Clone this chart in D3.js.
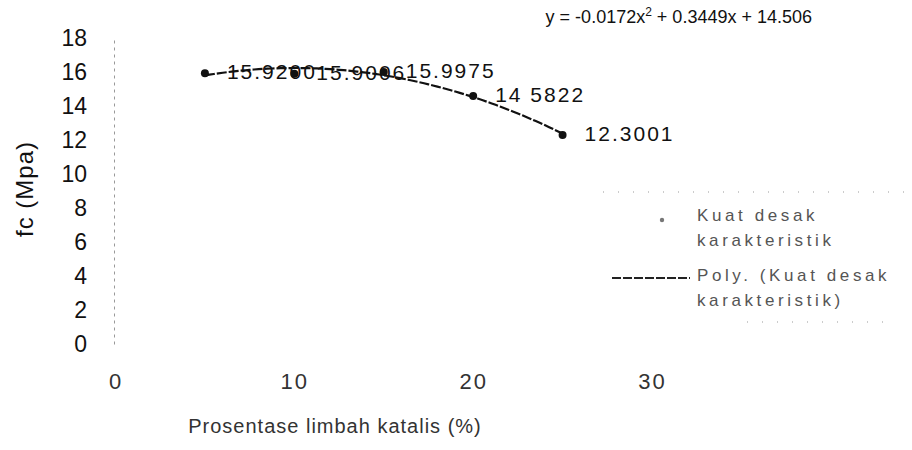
<!DOCTYPE html>
<html>
<head>
<meta charset="utf-8">
<script src="https://cdn.jsdelivr.net/npm/d3@7/dist/d3.min.js"></script>
<style>
  body { margin: 0; background: #fff; }
  svg { font-family: "Liberation Sans", Arial, sans-serif; }
</style>
</head>
<body>
<script>
// data
const persen = [5, 10, 15, 20, 25];
const kuatDesak = [15.92, 15.9006, 15.9975, 14.5822, 12.3001];
const labelText = ["15.9200", "15.9006", "15.9975", "14 5822", "12.3001"];
const polyCoef = [-0.0172, 0.3449, 14.506];
const xTicks = [0, 10, 20, 30];
const yTicks = [0, 2, 4, 6, 8, 10, 12, 14, 16, 18];
const legendLines = [["Kuat desak", "karakteristik"], ["Poly. (Kuat desak", "karakteristik)"]];

const w = 912, h = 450;

const svg = d3.select("body").append("svg")
  .attr("width", w)
  .attr("height", h);

const x = d3.scaleLinear().domain([0, 30]).range([115.5, 652]);
const y = d3.scaleLinear().domain([0, 18]).range([344, 38]);

// y axis
const yAxis = d3.axisLeft(y).tickValues(yTicks).tickSize(0).tickPadding(27);
const gy = svg.append("g")
  .attr("transform", "translate(114,0)")
  .call(yAxis);
gy.select(".domain").attr("stroke", "#999").attr("stroke-dasharray", "3,4");
gy.selectAll("text")
  .attr("font-size", 23)
  .attr("fill", "#111")
  .attr("font-family", "Liberation Sans, Arial, sans-serif");

// x axis, the line itself is not visible in the scan
const xAxis = d3.axisBottom(x).tickValues(xTicks).tickSize(0).tickPadding(29);
const gx = svg.append("g")
  .attr("transform", "translate(0,344)")
  .call(xAxis);
gx.select(".domain").remove();
gx.selectAll("text")
  .attr("font-size", 22)
  .attr("letter-spacing", 2)
  .attr("fill", "#333")
  .attr("font-family", "Liberation Sans, Arial, sans-serif");

// axis titles
svg.append("text")
  .attr("transform", "translate(33,189) rotate(-90)")
  .attr("text-anchor", "middle")
  .attr("font-size", 24)
  .attr("letter-spacing", 1)
  .attr("fill", "#111")
  .text("fc (Mpa)");

svg.append("text")
  .attr("x", 335)
  .attr("y", 433)
  .attr("text-anchor", "middle")
  .attr("font-size", 20)
  .attr("letter-spacing", 1)
  .attr("fill", "#333")
  .text("Prosentase limbah katalis (%)");

// polynomial trendline
const poly = (v) => polyCoef[0] * v * v + polyCoef[1] * v + polyCoef[2];
const curvePts = d3.range(persen[0], persen[persen.length - 1] + 0.01, 0.25);
svg.append("path")
  .datum(curvePts)
  .attr("fill", "none")
  .attr("stroke", "#111")
  .attr("stroke-width", 2.2)
  .attr("stroke-dasharray", "10,2")
  .attr("d", d3.line().x((d) => x(d)).y((d) => y(poly(d))));

// points
const data = persen.map((p, i) => ({ p: p, v: kuatDesak[i], lbl: labelText[i] }));
svg.selectAll("circle.pt")
  .data(data)
  .enter()
  .append("circle")
  .attr("class", "pt")
  .attr("cx", (d) => x(d.p))
  .attr("cy", (d) => y(d.v))
  .attr("r", 4)
  .attr("fill", "#111");

svg.selectAll("text.lbl")
  .data(data)
  .enter()
  .append("text")
  .attr("class", "lbl")
  .attr("x", (d) => x(d.p) + 22)
  .attr("y", (d) => y(d.v) + 6)
  .attr("font-size", 21)
  .attr("letter-spacing", 2)
  .attr("fill", "#111")
  .text((d) => d.lbl);

// equation
const eq = svg.append("text")
  .attr("x", 812)
  .attr("y", 23)
  .attr("text-anchor", "end")
  .attr("font-size", 18)
  .attr("fill", "#111");
eq.append("tspan").text("y = -0.0172x");
eq.append("tspan").attr("dy", -7).attr("font-size", 12).text("2");
eq.append("tspan").attr("dy", 7).text(" + 0.3449x + 14.506");

// legend, only faint dotted top and bottom edges show
const legend = svg.append("g");
legend.append("line")
  .attr("x1", 603).attr("x2", 910)
  .attr("y1", 192).attr("y2", 192)
  .attr("stroke", "#999")
  .attr("stroke-dasharray", "1,14");
legend.append("line")
  .attr("x1", 747).attr("x2", 890)
  .attr("y1", 322).attr("y2", 322)
  .attr("stroke", "#999")
  .attr("stroke-dasharray", "1,14");

legend.append("circle")
  .attr("cx", 662)
  .attr("cy", 220)
  .attr("r", 2.2)
  .attr("fill", "#777");

legend.append("line")
  .attr("x1", 612)
  .attr("x2", 690)
  .attr("y1", 278)
  .attr("y2", 278)
  .attr("stroke", "#222")
  .attr("stroke-width", 2)
  .attr("stroke-dasharray", "9,2");

legendLines.forEach((lines, i) => {
  lines.forEach((t, j) => {
    legend.append("text")
      .attr("x", 697)
      .attr("y", 221 + i * 60 + j * 25)
      .attr("font-size", 17)
      .attr("letter-spacing", 3.6)
      .attr("fill", "#555")
      .text(t);
  });
});
</script>
</body>
</html>
